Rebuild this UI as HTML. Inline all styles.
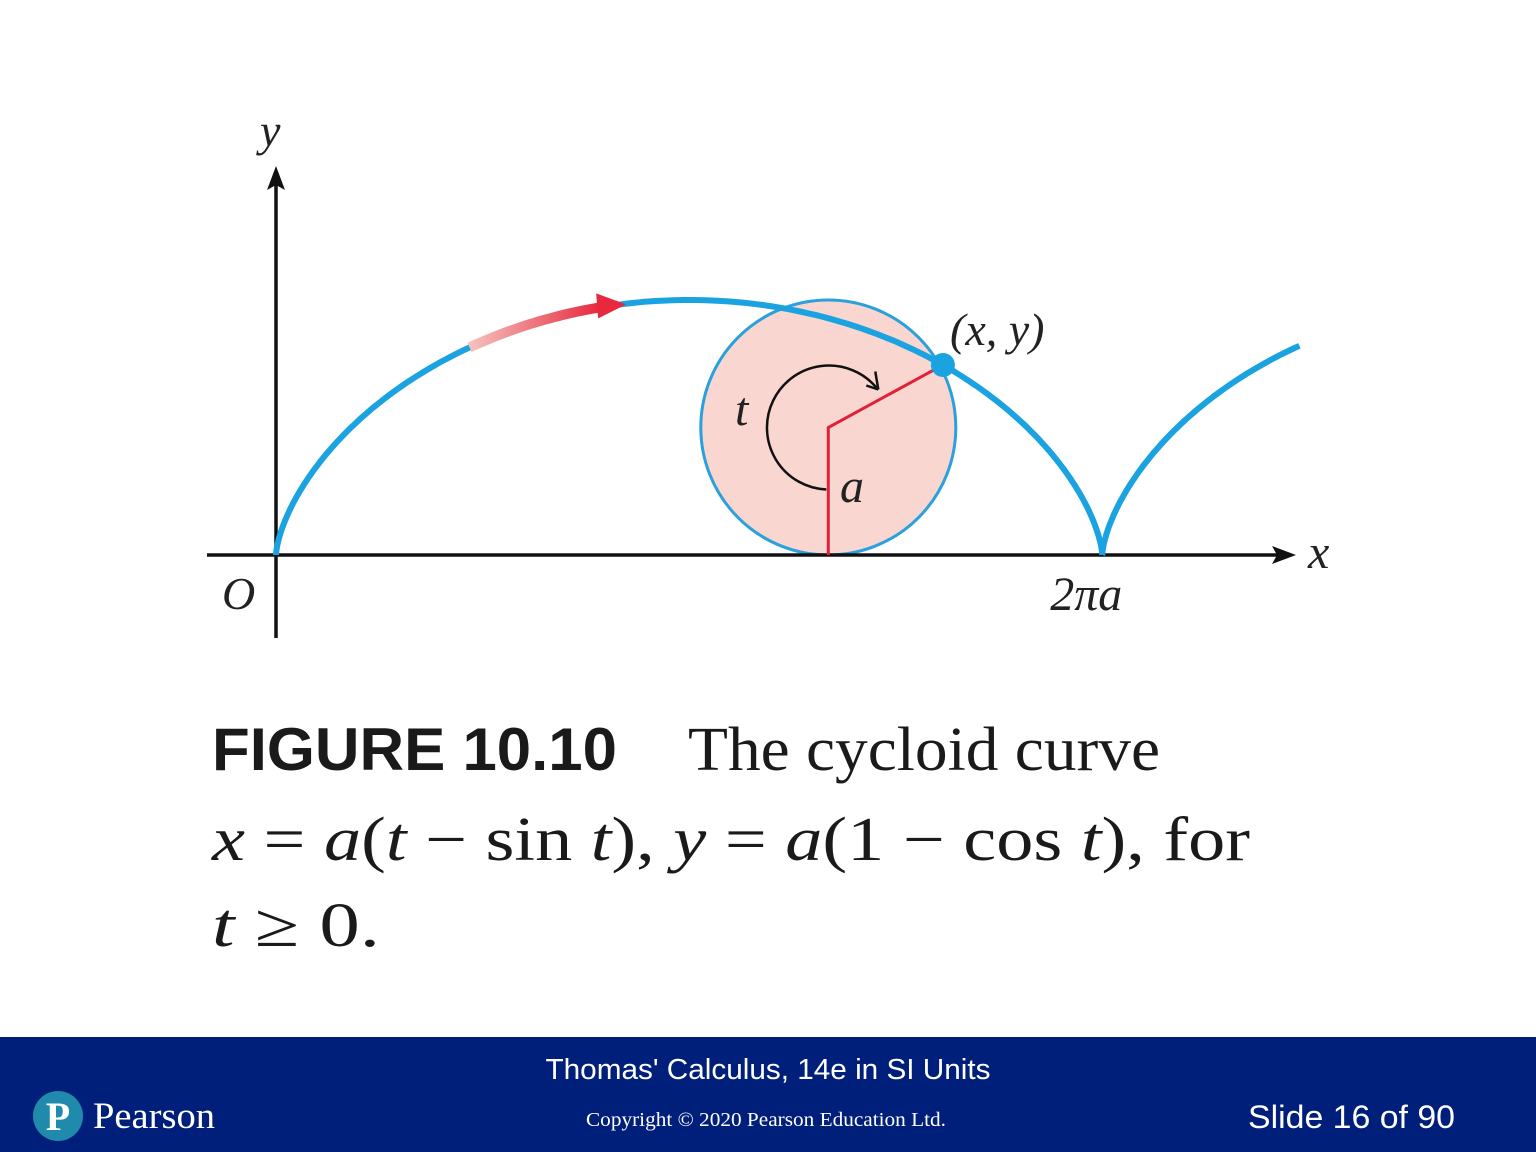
<!DOCTYPE html>
<html><head><meta charset="utf-8"><style>
html,body{margin:0;padding:0;background:#fff;}
svg{display:block;}
.serif{font-family:"Liberation Serif",serif;}
.sans{font-family:"Liberation Sans",sans-serif;}
</style></head><body>
<svg id="fig" width="1536" height="1152" viewBox="0 0 1536 1152" xmlns="http://www.w3.org/2000/svg">
<defs>
<linearGradient id="arrowGrad" x1="0" x2="1" y1="0" y2="0">
<stop offset="0" stop-color="#f4c2bd"/><stop offset="1" stop-color="#e8283c"/>
</linearGradient>
</defs>
<g id="plot"></g>
<text class="serif" x="212" y="770" font-size="60" font-weight="bold" textLength="405" lengthAdjust="spacingAndGlyphs" fill="#1a1a1a" style="font-family:'Liberation Sans',sans-serif">FIGURE 10.10</text>
<text class="serif" x="688" y="770" font-size="62" textLength="472" lengthAdjust="spacingAndGlyphs" fill="#1a1a1a">The cycloid curve</text>
<text class="serif" x="212" y="860" font-size="62" textLength="1038" lengthAdjust="spacingAndGlyphs" fill="#1a1a1a"><tspan font-style="italic">x</tspan> = <tspan font-style="italic">a</tspan>(<tspan font-style="italic">t</tspan> − sin <tspan font-style="italic">t</tspan>), <tspan font-style="italic">y</tspan> = <tspan font-style="italic">a</tspan>(1 − cos <tspan font-style="italic">t</tspan>), for</text>
<text class="serif" x="212" y="946" font-size="62" textLength="168" lengthAdjust="spacingAndGlyphs" fill="#1a1a1a"><tspan font-style="italic">t</tspan> ≥ 0.</text>
<rect x="0" y="1037" width="1536" height="115" fill="#001f7a"/>
<text class="sans" x="768" y="1079" font-size="29" fill="#fff" text-anchor="middle" textLength="445" lengthAdjust="spacingAndGlyphs">Thomas' Calculus, 14e in SI Units</text>
<text class="serif" x="766" y="1126" font-size="20" fill="#fff" text-anchor="middle" textLength="360" lengthAdjust="spacingAndGlyphs">Copyright © 2020 Pearson Education Ltd.</text>
<text class="sans" x="1455" y="1128" font-size="32" fill="#fff" text-anchor="end" textLength="207" lengthAdjust="spacingAndGlyphs">Slide 16 of 90</text>
<g>
<circle cx="58" cy="1116" r="25" fill="#1f8aab"/>
<text class="serif" x="58" y="1130" font-size="40" font-weight="bold" fill="#fff" text-anchor="middle">P</text>
<text class="serif" x="93" y="1128" font-size="37" fill="#fff" textLength="122" lengthAdjust="spacingAndGlyphs">Pearson</text>
</g>
</svg>
<script>
const tSamples = [0, 8.55];
const pointT = [4.2];
const arrowT = [2.25, 2.8];
const xTickLabels = ["2πa"];
const axisLabels = ["x", "y", "O"];
const ox = 276, oy = 555, ax = 131.5, ay = 127.5;
function sx(v){return ox + v*ax;}
function sy(v){return oy - v*ay;}
const NS = "http://www.w3.org/2000/svg";
const g = document.getElementById('plot');
function mk(tag, attrs){const e=document.createElementNS(NS,tag);for(const k in attrs)e.setAttribute(k,attrs[k]);g.appendChild(e);return e;}
function cyc(t){return [sx(t-Math.sin(t)), sy(1-Math.cos(t))];}
const tp = pointT[0];
const circ = mk('circle',{cx:sx(tp),cy:sy(1),r:ay,fill:'#f9d6cf',stroke:'#2aa0dc','stroke-width':3});


const xa = mk('line',{x1:207,y1:oy,x2:1280,y2:oy,stroke:'#111','stroke-width':3.5});


const xh = mk('path',{d:'M1296 555 L1272 546 L1277 555 L1272 564 Z',fill:'#111'});


const ya = mk('line',{x1:ox,y1:638,x2:ox,y2:180,stroke:'#111','stroke-width':3.5});


const yh = mk('path',{d:'M276 166 L267 190 L276 185 L285 190 Z',fill:'#111'});


const P = cyc(tp);
const rad = mk('path',{d:`M${sx(tp)} ${oy} L${sx(tp)} ${sy(1)} L${P[0]} ${P[1]}`,fill:'none',stroke:'#e0213a','stroke-width':3});


const cx0=sx(tp), cy0=sy(1);
const arc = mk('path',{d:`M${cx0-2} ${cy0+62} A62 62 0 1 1 ${cx0+48} ${cy0-40}`,fill:'none',stroke:'#111','stroke-width':2.5});


const ah = mk('path',{d:`M${cx0+50} ${cy0-38} L${cx0+38} ${cy0-42} M${cx0+50} ${cy0-38} L${cx0+47} ${cy0-56}`,fill:'none',stroke:'#111','stroke-width':2.5});


let d='';
for(let i=0;i<=400;i++){const t=tSamples[0]+(tSamples[1]-tSamples[0])*i/400;const p=cyc(t);d+=(i?'L':'M')+p[0].toFixed(1)+' '+p[1].toFixed(1);}
const curve = mk('path',{d:d,fill:'none',stroke:'#1aa3e0','stroke-width':6});


let d2='';
for(let i=0;i<=30;i++){const t=arrowT[0]+(arrowT[1]-arrowT[0])*i/30;const p=cyc(t);d2+=(i?'L':'M')+p[0].toFixed(1)+' '+p[1].toFixed(1);}
const dir = mk('path',{d:d2,fill:'none',stroke:'url(#arrowGrad)','stroke-width':10});


const e2 = cyc(arrowT[1]);
const dh = mk('path',{d:`M${e2[0]+26} ${e2[1]-3} L${e2[0]-4} ${e2[1]-14} L${e2[0]-2} ${e2[1]+11} Z`,fill:'#e8283c'});


const pt = mk('circle',{cx:P[0],cy:P[1],r:12,fill:'#1aa3e0'});


function txt(x,y,s,size,ital){const e=mk('text',{x:x,y:y,'font-size':size,fill:'#222','font-family':'Liberation Serif, serif'});if(ital)e.setAttribute('font-style','italic');e.textContent=s;return e;}
const l1=txt(950,345,'(x, y)',46,true);


const l2=txt(735,425,'t',48,true);


const l3=txt(840,502,'a',48,true);


const l4=txt(sx(2*Math.PI)-52,610,xTickLabels[0],48,true);


const l5=txt(1308,568,axisLabels[0],48,true);


const l6=txt(260,146,axisLabels[1],46,true);


const l7=txt(222,609,axisLabels[2],46,true);


</script>
</body></html>
